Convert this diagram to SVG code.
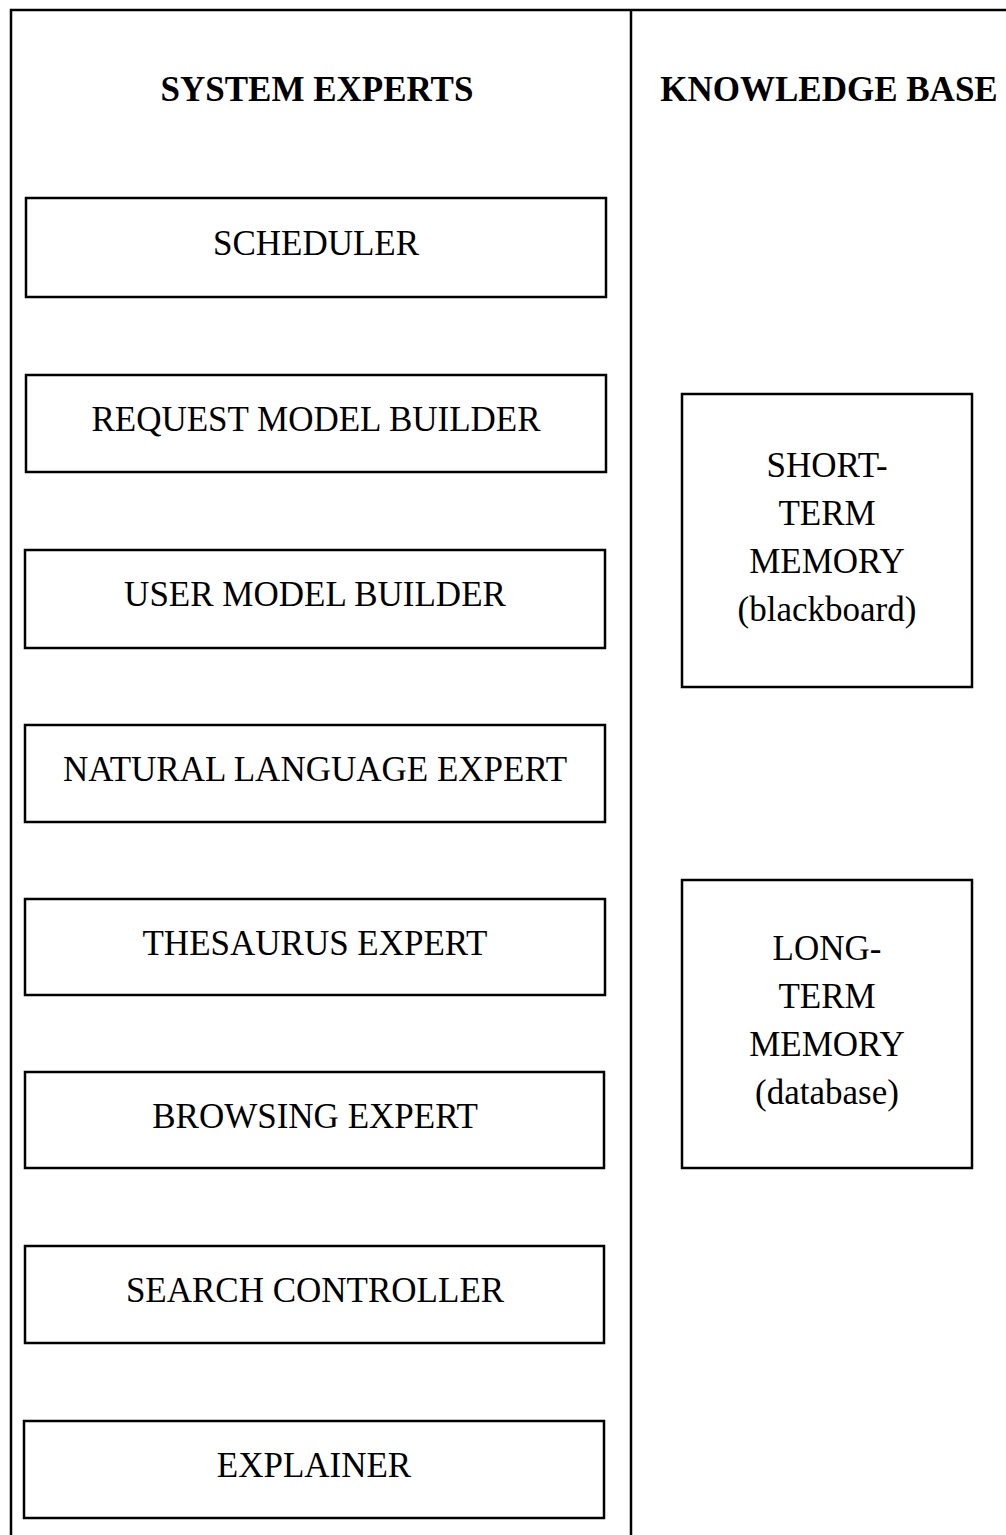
<svg xmlns="http://www.w3.org/2000/svg" width="1006" height="1535" viewBox="0 0 1006 1535">
<style>
.frame{fill:none;stroke:#000;stroke-width:2.5}
.box{fill:#fff;stroke:#000;stroke-width:2.5}
.t{font-family:"Liberation Serif","Times New Roman",serif;font-size:35px;fill:#000;text-anchor:middle}
.h{font-weight:bold}
</style>
<rect width="1006" height="1535" fill="#fff"/>
<g id="frame">
<path class="frame" d="M11,1535 V10 H1006 M631,10 V1535"/>
</g>
<g id="headers">
<text class="t h" x="317" y="101">SYSTEM EXPERTS</text>
<text class="t h" x="829" y="101">KNOWLEDGE BASE</text>
</g>
<g id="connectors"></g>
<g id="scheduler"><rect class="box" x="26" y="198" width="580" height="99"/><text class="t" x="316" y="255">SCHEDULER</text></g>
<g id="request-model-builder"><rect class="box" x="26" y="375" width="580" height="97"/><text class="t" x="316" y="431">REQUEST MODEL BUILDER</text></g>
<g id="user-model-builder"><rect class="box" x="25" y="550" width="580" height="98"/><text class="t" x="315" y="606">USER MODEL BUILDER</text></g>
<g id="natural-language-expert"><rect class="box" x="25" y="725" width="580" height="97"/><text class="t" x="315" y="781">NATURAL LANGUAGE EXPERT</text></g>
<g id="thesaurus-expert"><rect class="box" x="25" y="899" width="580" height="96"/><text class="t" x="315" y="955">THESAURUS EXPERT</text></g>
<g id="browsing-expert"><rect class="box" x="25" y="1072" width="579" height="96"/><text class="t" x="315" y="1128">BROWSING EXPERT</text></g>
<g id="search-controller"><rect class="box" x="25" y="1246" width="579" height="97"/><text class="t" x="315" y="1302">SEARCH CONTROLLER</text></g>
<g id="explainer"><rect class="box" x="24" y="1421" width="580" height="97"/><text class="t" x="314" y="1477">EXPLAINER</text></g>
<g id="short-term-memory"><rect class="box" x="682" y="394" width="290" height="293"/>
<text class="t" x="827" y="477">SHORT-</text><text class="t" x="827" y="525">TERM</text><text class="t" x="827" y="573">MEMORY</text><text class="t" x="827" y="621">(blackboard)</text></g>
<g id="long-term-memory"><rect class="box" x="682" y="880" width="290" height="288"/>
<text class="t" x="827" y="960">LONG-</text><text class="t" x="827" y="1008">TERM</text><text class="t" x="827" y="1056">MEMORY</text><text class="t" x="827" y="1104">(database)</text></g>
</svg>
